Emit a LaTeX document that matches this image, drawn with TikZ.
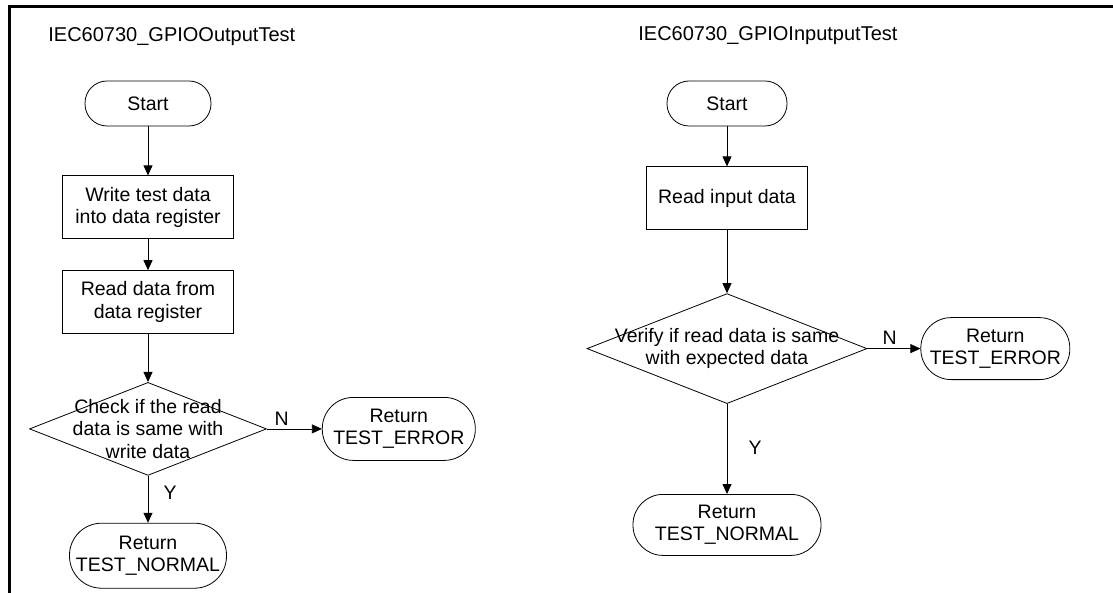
\documentclass[tikz,border=0pt]{standalone}
\usepackage{fontspec}
\setmainfont{Liberation Sans}
\usetikzlibrary{positioning,shapes.geometric,arrows.meta}

\begin{document}
\begin{tikzpicture}[x=1pt, y=-1pt, line width=0.8pt, >={Triangle[length=10pt,width=9pt]},
    every node/.style={font=\fontsize{19.5}{22.5}\selectfont}]
    \tikzstyle{startstop} = [rectangle, draw, inner sep=0pt, align=center]
    \tikzstyle{process} = [rectangle, draw, inner sep=0pt, align=center, minimum height=63pt]
    \tikzstyle{decision} = [diamond, draw, inner sep=0pt]
    \tikzstyle{title} = [anchor=west, inner sep=0pt, font=\fontsize{20}{24}\selectfont]
    \useasboundingbox (0,0) rectangle (1113,593);
    % frame round the page
    \draw [line width=2.8pt] (9.5,593) -- (9.5,6.3) -- (1113,6.3);

    % output test
    \node (titleOut) [title] at (48,37) {IEC60730\_GPIOOutputTest};
    \node (startOut) [startstop, rounded corners=22pt, minimum width=126pt, minimum height=45pt] at (148,103.5) {Start};
    \node (writeOut) [process, minimum width=171pt, below=49pt of startOut] {Write test data\\into data register};
    \node (readOut) [process, minimum width=171pt, below=31pt of writeOut] {Read data from\\data register};
    \node (checkOut) [decision, minimum width=237pt, minimum height=93pt, below=48pt of readOut,
        label={[align=center]center:Check if the read\\data is same with\\write data}] {};
    \node (errorOut) [startstop, rounded corners=31pt, minimum width=153pt, minimum height=63pt, right=55pt of checkOut] {Return\\TEST\_ERROR};
    \node (normalOut) [startstop, rounded corners=32pt, minimum width=157pt, minimum height=65pt, below=47pt of checkOut] {Return\\TEST\_NORMAL};

    \draw [->] (startOut) -- (writeOut);
    \draw [->] (writeOut) -- (readOut);
    \draw [->] (readOut) -- (checkOut);
    \draw [->] (checkOut) -- node [above, pos=0.27] {N} (errorOut);
    \draw [->] (checkOut) -- node [right=12pt, pos=0.36] {Y} (normalOut);

    % input test
    \node (titleIn) [title] at (638,36) {IEC60730\_GPIOInputputTest};
    \node (startIn) [startstop, rounded corners=22pt, minimum width=120pt, minimum height=45pt] at (727,103.5) {Start};
    \node (readIn) [process, minimum width=161pt, below=40pt of startIn] {Read input data};
    \node (verifyIn) [decision, minimum width=280pt, minimum height=110pt, below=63pt of readIn,
        label={[align=center]center:Verify if read data is same\\with expected data}] {};
    \node (errorIn) [startstop, rounded corners=30.5pt, minimum width=149pt, minimum height=62pt, right=53pt of verifyIn] {Return\\TEST\_ERROR};
    \node (normalIn) [startstop, rounded corners=30pt, minimum width=188pt, minimum height=61pt, below=90pt of verifyIn] {Return\\TEST\_NORMAL};

    \draw [->] (startIn) -- (readIn);
    \draw [->] (readIn) -- (verifyIn);
    \draw [->] (verifyIn) -- node [above, pos=0.42] {N} (errorIn);
    \draw [->] (verifyIn) -- node [right=18pt, pos=0.49] {Y} (normalIn);

\end{tikzpicture}
\end{document}
